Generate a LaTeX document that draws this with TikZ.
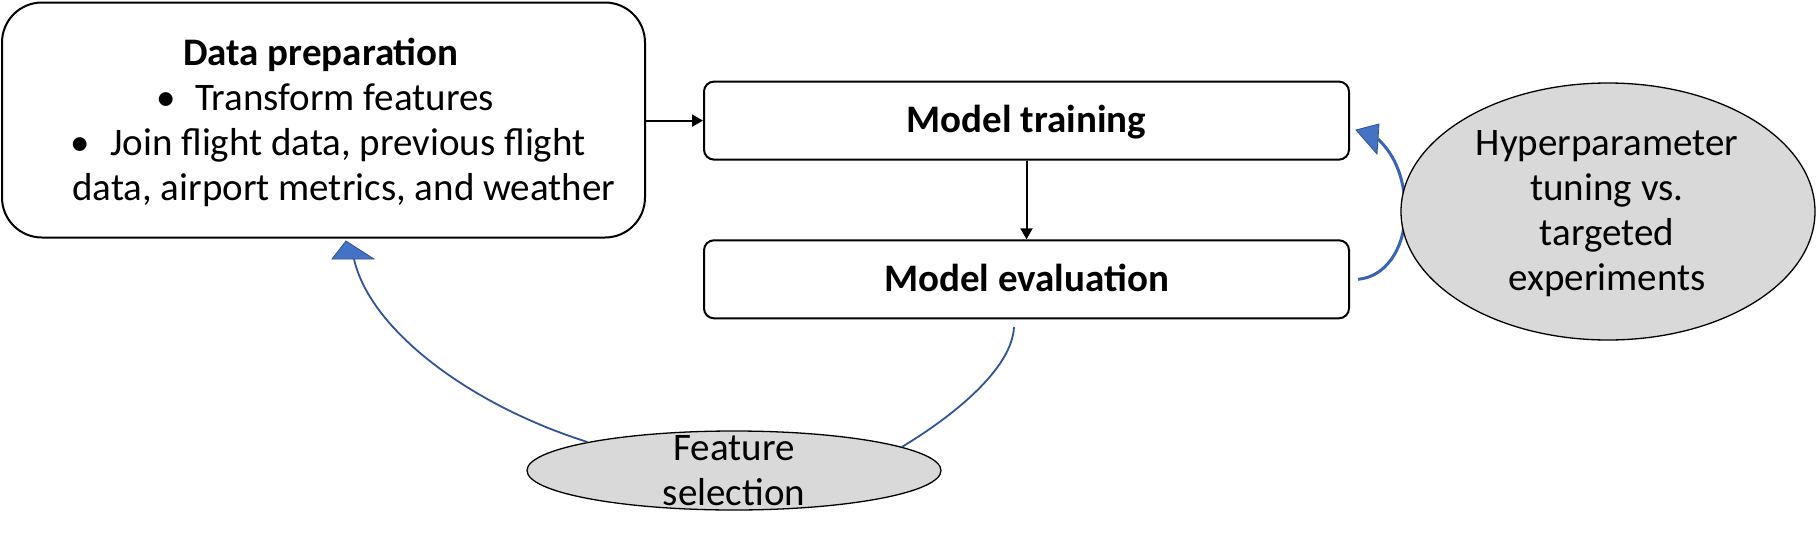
\documentclass[tikz,border=0pt]{standalone}
\usepackage{fontspec}
\setmainfont{Carlito}
\usetikzlibrary{arrows.meta,shapes.geometric}
\definecolor{headfill}{HTML}{4472C4}
\definecolor{headedge}{HTML}{2F528F}
\definecolor{loopline}{HTML}{2F5597}
\definecolor{hypline}{HTML}{3A64B0}
\definecolor{greyfill}{HTML}{D9D9D9}
\begin{document}
\begin{tikzpicture}[x=1pt,y=-1pt,
  every node/.style={font=\fontsize{39}{45}\selectfont},
  bigbox/.style={draw=black, line width=2pt, fill=white, rounded corners=40pt, inner sep=0pt},
  stepbox/.style={draw=black, line width=2pt, fill=white, rounded corners=10pt, inner sep=0pt,
    minimum width=645pt, text height=26pt, text depth=1.5pt, font=\fontsize{39}{45}\selectfont\bfseries},
  oval/.style={ellipse, draw=black, line width=1.3pt, fill=greyfill, inner sep=0pt},
  flow/.style={line width=2pt, -{Triangle[length=11pt,width=12pt]}},
  loopcurve/.style={draw=loopline, line width=1.8pt},
  head/.style={fill=headfill, draw=headedge, line width=0.8pt, line join=miter}
]
\useasboundingbox (0,0) rectangle (1816,541);

% boxes
\node[bigbox, minimum width=643pt, minimum height=235pt] (dataprep) at (323.5,120) {};
\node[stepbox, minimum height=78pt] (train) at (1026.5,120.6) {Model training};
\node[stepbox, minimum height=78pt] (eval) at (1026.5,279.3) {Model evaluation};

% text of the data preparation box
\node[anchor=base west, inner sep=0pt] (datatext) at (60,65) {%
  \begin{tabular}[t]{@{}l@{}}
  \hspace*{123pt}\textbf{Data preparation}\\
  \hspace*{96pt}\makebox[39pt][l]{\textbullet}Transform features\\
  \hspace*{10pt}\makebox[40pt][l]{\textbullet}Join flight data, previous flight\\
  \hspace*{12pt}data, airport metrics, and weather
  \end{tabular}};

% hyperparameter loop (drawn below the ellipse)
\coordinate (hypStart) at ([xshift=8pt]eval.east);
\coordinate (hypBase) at (1378,139);
\draw[draw=hypline, line width=3pt] (hypStart)
  .. controls (1385,277) and (1404,250) .. (1405,215)
  .. controls (1406,180) and (1395,155) .. (hypBase);
\path[head] (1356,130) -- (1379,124) -- (1377,154) -- cycle;

% ellipses
\node[oval, minimum width=414pt, minimum height=257pt] (hyper) at (1608,211.5) {};
\node[anchor=base, inner sep=0pt] (hypertext) at (1607,155) {%
  \begin{tabular}[t]{@{}c@{}}Hyperparameter\\tuning vs.\\targeted\\experiments\end{tabular}};

\node[oval, minimum width=414pt, minimum height=79pt] (feat) at (734,470.5) {};

% feature selection loop
\coordinate (featBase) at (354,259);
\coordinate (featEnd) at (1014,327);
\draw[loopcurve] (feat.169.6) .. controls (470,405) and (370,330) .. (featBase);
\path[head] (346,241) -- (332,259) -- (374,259) -- cycle;
\draw[loopcurve] (feat.8.1) .. controls (950,418) and (1012,370) .. (featEnd);

\node[anchor=base, inner sep=0pt] (feattext) at (734,460) {%
  \begin{tabular}[t]{@{}c@{}}Feature\\selection\end{tabular}};

% flow arrows
\draw[flow] (dataprep.east |- train.west) -- (train.west);
\draw[flow] (train.south) -- (eval.north);
\end{tikzpicture}
\end{document}
